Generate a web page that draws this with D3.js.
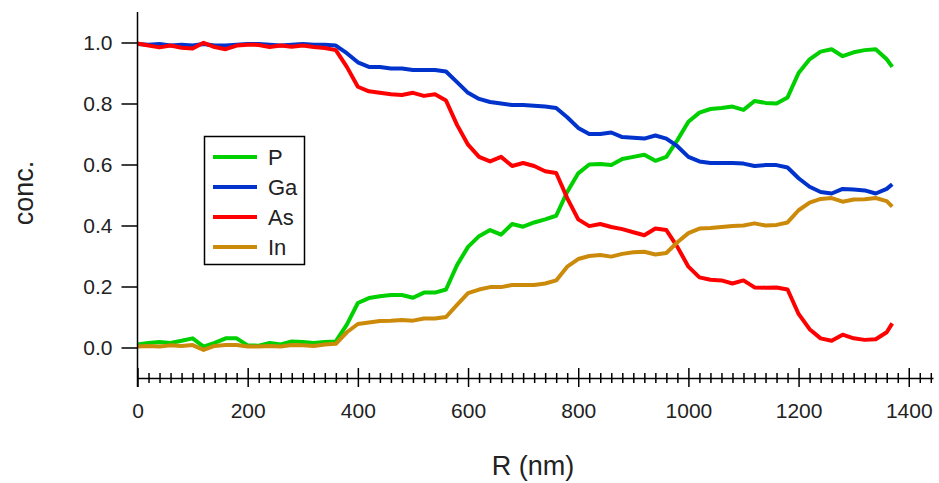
<!DOCTYPE html>
<html>
<head>
<meta charset="utf-8">
<script src="https://cdn.jsdelivr.net/npm/d3@7"></script>
<style>
  html, body { margin: 0; padding: 0; background: #fff; }
  svg { display: block; font-family: "Liberation Sans", Arial, sans-serif; }
</style>
</head>
<body>
<svg id="chart" width="939" height="483"></svg>
<script>
// ---- data ----
const R = [0,20,40,60,80,100,120,140,160,180,200,220,240,260,280,300,320,340,360,380,
  400,420,440,460,480,500,520,540,560,580,600,620,640,660,680,700,720,740,760,780,
  800,820,840,860,880,900,920,940,960,980,1000,1020,1040,1060,1080,1100,1120,1140,1160,1180,
  1200,1220,1240,1260,1280,1300,1320,1340,1360,1370];

const P = [0.010,0.015,0.018,0.015,0.022,0.030,0.003,0.015,0.030,0.030,0.007,0.006,0.015,0.010,0.020,0.018,0.015,0.018,0.020,0.075,
  0.146,0.162,0.168,0.172,0.172,0.163,0.180,0.180,0.190,0.270,0.330,0.365,0.385,0.370,0.405,0.396,0.410,0.420,0.432,0.510,
  0.571,0.600,0.602,0.598,0.618,0.625,0.632,0.612,0.625,0.680,0.740,0.770,0.782,0.785,0.790,0.779,0.808,0.802,0.800,0.820,
  0.900,0.945,0.970,0.978,0.955,0.968,0.975,0.978,0.945,0.920];

const Ga = [0.995,0.993,0.995,0.990,0.993,0.990,0.995,0.990,0.990,0.993,0.995,0.995,0.993,0.990,0.993,0.995,0.993,0.993,0.990,0.965,
  0.935,0.920,0.920,0.915,0.915,0.910,0.910,0.910,0.905,0.870,0.835,0.815,0.805,0.800,0.795,0.795,0.793,0.790,0.785,0.755,
  0.720,0.700,0.700,0.705,0.690,0.688,0.685,0.695,0.685,0.660,0.625,0.610,0.605,0.605,0.605,0.603,0.595,0.598,0.598,0.590,
  0.555,0.527,0.510,0.505,0.520,0.518,0.515,0.505,0.520,0.535];

const As = [0.997,0.990,0.984,0.990,0.983,0.980,0.999,0.985,0.978,0.990,0.993,0.992,0.985,0.990,0.986,0.990,0.985,0.982,0.975,0.920,
  0.855,0.840,0.835,0.830,0.828,0.835,0.825,0.830,0.810,0.730,0.665,0.625,0.610,0.625,0.595,0.605,0.595,0.578,0.572,0.490,
  0.420,0.398,0.405,0.395,0.388,0.378,0.368,0.390,0.385,0.330,0.265,0.230,0.222,0.220,0.210,0.220,0.197,0.196,0.197,0.190,
  0.110,0.060,0.030,0.022,0.042,0.030,0.025,0.027,0.050,0.079];

const In = [0.003,0.005,0.003,0.007,0.005,0.008,-0.008,0.005,0.008,0.008,0.003,0.003,0.005,0.003,0.008,0.007,0.005,0.010,0.012,0.050,
  0.077,0.082,0.087,0.088,0.090,0.088,0.095,0.095,0.100,0.140,0.178,0.190,0.198,0.198,0.205,0.205,0.205,0.210,0.220,0.265,
  0.290,0.300,0.303,0.298,0.307,0.312,0.314,0.305,0.310,0.345,0.375,0.390,0.392,0.395,0.398,0.400,0.407,0.400,0.402,0.410,
  0.450,0.475,0.487,0.490,0.478,0.485,0.486,0.490,0.480,0.462];

const seriesNames = ["P", "Ga", "As", "In"];
const seriesColors = ["#00d000", "#0033cc", "#ff0000", "#cc8a0a"];
const xTicks = [0, 200, 400, 600, 800, 1000, 1200, 1400];
const yTicks = [0.0, 0.2, 0.4, 0.6, 0.8, 1.0];
const xTitle = "R (nm)";
const yTitle = "conc.";

// ---- chart ----
const svg = d3.select("#chart");
const x = d3.scaleLinear().domain([0, 1444]).range([137.5, 933]);
const y = d3.scaleLinear().domain([-0.1, 1.1]).range([378, 12]);

const seriesData = [P, Ga, As, In];
const line = d3.line().x((d, i) => x(R[i])).y(d => y(d));

svg.append("g").selectAll("path")
  .data(seriesData)
  .join("path")
  .attr("fill", "none")
  .attr("stroke", (d, i) => seriesColors[i])
  .attr("stroke-width", 4)
  .attr("stroke-linejoin", "round")
  .attr("d", d => line(d));

// y axis
const yAxis = svg.append("g")
  .attr("transform", "translate(137.5,0)")
  .call(d3.axisLeft(y).tickValues(yTicks).tickFormat(d3.format(".1f")).tickSize(16).tickSizeOuter(0).tickPadding(9));
yAxis.select(".domain").attr("d", "M0,12V387");

// x axis minor ticks (crossing)
const minor = d3.range(0, 1441, 20).filter(v => v % 200 !== 0);
const xMinor = svg.append("g")
  .attr("transform", "translate(0,378)")
  .call(d3.axisBottom(x).tickValues(minor).tickFormat("").tickSize(5).tickSizeOuter(0));
xMinor.select(".domain").remove();
xMinor.selectAll(".tick line").attr("y1", -5).attr("y2", 5);

// x axis major
const xAxis = svg.append("g")
  .attr("transform", "translate(0,378)")
  .call(d3.axisBottom(x).tickValues(xTicks).tickFormat(d3.format("d")).tickSize(9).tickSizeOuter(0).tickPadding(16));
xAxis.selectAll(".tick line").attr("y1", -10).attr("y2", 9);

svg.selectAll(".domain").attr("stroke", "#000").attr("stroke-width", 1.5);
svg.selectAll(".tick line").attr("stroke", "#000").attr("stroke-width", 1.5);
svg.selectAll(".tick text").attr("fill", "#222").style("font-size", "21px")
  .style("font-family", "'Liberation Sans', Arial, sans-serif");

// axis titles
svg.append("text")
  .attr("x", 533).attr("y", 475)
  .attr("text-anchor", "middle")
  .style("font-size", "27px").attr("fill", "#222")
  .text(xTitle);

svg.append("text")
  .attr("transform", "translate(33,193) rotate(-90)")
  .attr("text-anchor", "middle")
  .style("font-size", "27px").attr("fill", "#222")
  .text(yTitle);

// legend
const lg = svg.append("g");
lg.append("rect")
  .attr("x", 204.5).attr("y", 136.5).attr("width", 100).attr("height", 128)
  .attr("fill", "#fff").attr("stroke", "#000").attr("stroke-width", 1.5);
const ly = [157, 187, 217, 247];
seriesNames.forEach((name, i) => {
  lg.append("line")
    .attr("x1", 213).attr("x2", 257).attr("y1", ly[i]).attr("y2", ly[i])
    .attr("stroke", seriesColors[i]).attr("stroke-width", 4);
  lg.append("text")
    .attr("x", 268).attr("y", ly[i]).attr("dy", "0.36em")
    .style("font-size", "22px").attr("fill", "#222")
    .text(name);
});
</script>
</body>
</html>
